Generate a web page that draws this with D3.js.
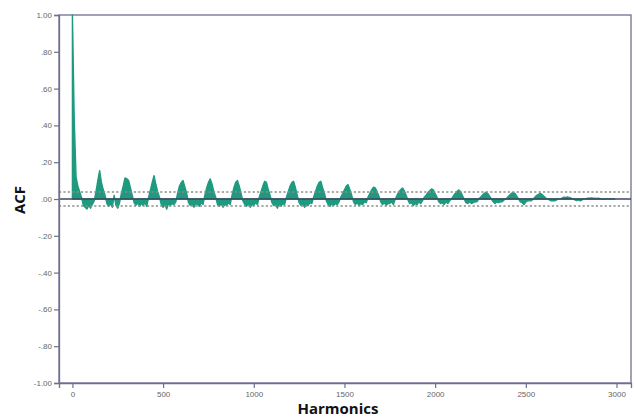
<!DOCTYPE html>
<html><head><meta charset="utf-8">
<script src="https://cdn.jsdelivr.net/npm/d3@7"></script>
<style>
html,body{margin:0;padding:0;background:#fff;}
svg{display:block;}
</style></head>
<body>
<svg id="chart" width="636" height="418"></svg>
<script>
// ACF values at lag steps of 10 (lag 0 .. 2990)
const lagStep = 10;
const acfValues = [
  1.00, 0.43, 0.12, 0.07, 0.04, 0.01, -0.035, -0.045, -0.055, -0.035,
  -0.05, -0.03, -0.01, 0.04, 0.10, 0.154, 0.09, 0.05, 0.02, -0.025,
  -0.04, -0.025, -0.045, 0.02, -0.035, -0.05, -0.02, 0.03, 0.07, 0.115,
  0.11, 0.10, 0.06, 0.02, -0.02, -0.035, -0.02, -0.04, -0.025, -0.035,
  -0.02, -0.04, 0.01, 0.05, 0.09, 0.127, 0.08, 0.04, 0.01, -0.03,
  -0.045, -0.03, -0.055, -0.025, -0.035, -0.025, -0.03, -0.015, 0.03, 0.07,
  0.09, 0.10, 0.065, 0.03, -0.02, -0.035, -0.025, -0.045, -0.025, -0.03,
  -0.04, -0.02, -0.03, 0.02, 0.06, 0.09, 0.109, 0.08, 0.04, 0.01,
  -0.03, -0.04, -0.025, -0.045, -0.03, -0.035, -0.02, -0.03, 0.02, 0.06,
  0.09, 0.10, 0.07, 0.03, -0.01, -0.03, -0.04, -0.025, -0.045, -0.03,
  -0.035, -0.02, -0.03, 0.01, 0.04, 0.07, 0.096, 0.09, 0.05, 0.02,
  -0.02, -0.035, -0.03, -0.05, -0.025, -0.04, -0.025, -0.03, 0.01, 0.04,
  0.07, 0.09, 0.096, 0.06, 0.02, -0.02, -0.035, -0.025, -0.045, -0.03,
  -0.035, -0.02, -0.025, 0.01, 0.04, 0.07, 0.09, 0.096, 0.06, 0.03,
  -0.01, -0.03, -0.04, -0.025, -0.035, -0.025, -0.03, -0.015, 0.01, 0.03,
  0.05, 0.07, 0.078, 0.05, 0.02, -0.015, -0.03, -0.02, -0.035, -0.025,
  -0.03, -0.015, -0.02, 0.01, 0.03, 0.05, 0.064, 0.06, 0.04, 0.015,
  -0.015, -0.03, -0.02, -0.035, -0.025, -0.025, -0.015, -0.03, 0.00, 0.02,
  0.04, 0.05, 0.06, 0.045, 0.02, -0.005, -0.025, -0.02, -0.035, -0.025,
  -0.03, -0.015, -0.025, -0.01, 0.01, 0.02, 0.035, 0.045, 0.055, 0.05,
  0.03, 0.01, -0.015, -0.025, -0.02, -0.03, -0.015, -0.025, -0.01, 0.00,
  0.015, 0.03, 0.04, 0.049, 0.04, 0.02, 0.00, -0.02, -0.025, -0.015,
  -0.025, -0.02, -0.015, -0.015, 0.00, 0.01, 0.02, 0.03, 0.036, 0.03,
  0.015, 0.00, -0.015, -0.025, -0.015, -0.02, -0.015, -0.015, -0.005, 0.00,
  0.01, 0.02, 0.03, 0.035, 0.03, 0.015, 0.00, -0.015, -0.02, -0.03,
  -0.015, -0.01, -0.01, -0.01, 0.00, 0.01, 0.02, 0.025, 0.03, 0.025,
  0.015, 0.005, 0.00, -0.005, -0.01, -0.008, -0.01, -0.005, 0.00, 0.00,
  0.005, 0.01, 0.008, 0.012, 0.008, 0.005, 0.00, -0.005, -0.008, -0.005,
  -0.01, -0.005, 0.00, 0.00, 0.004, 0.005, 0.006, 0.005, 0.004, 0.003,
  0.004, 0.002, 0.00, -0.002, 0.00, 0.001, 0.00, 0.001, 0.00, 0.00
];
const confLimit = 0.038;
const xTicks = [0, 500, 1000, 1500, 2000, 2500, 3000];
const yTicks = [-1, -0.8, -0.6, -0.4, -0.2, 0, 0.2, 0.4, 0.6, 0.8, 1];
const xTitle = "Harmonics";
const yTitle = "ACF";

(function () {
const data = acfValues.map((v, i) => ({lag: i * lagStep, acf: v}));

const svg = d3.select("#chart");
const pL = 59, pR = 631, pT = 15, pB = 383;

const x = d3.scaleLinear().domain([-74, 3080]).range([pL, pR]);
const y = d3.scaleLinear().domain([-1, 1]).range([pB, pT]);

const teal = "#1f9a7f";
const frame = "#6f7090";

// plot frame
svg.append("rect")
  .attr("x", pL).attr("y", pT)
  .attr("width", pR - pL).attr("height", pB - pT)
  .attr("fill", "none").attr("stroke", frame).attr("stroke-width", 1.3);

// ACF area (bars from zero)
const area = d3.area()
  .x(d => x(d.lag))
  .y0(y(0))
  .y1(d => y(d.acf));
svg.append("path").datum(data)
  .attr("d", area)
  .attr("fill", teal).attr("stroke", teal).attr("stroke-width", 1.4)
  .attr("stroke-linejoin", "round");

// confidence limits
[confLimit, -confLimit].forEach(c => {
  svg.append("line")
    .attr("x1", pL).attr("x2", pR)
    .attr("y1", y(c)).attr("y2", y(c))
    .attr("stroke", "#8c8c8c").attr("stroke-width", 1.3)
    .attr("stroke-dasharray", "2.2,2.2");
});

// zero reference line
svg.append("line")
  .attr("x1", pL).attr("x2", pR)
  .attr("y1", y(0)).attr("y2", y(0))
  .attr("stroke", "#3d4562").attr("stroke-width", 1.5);

// axes
const fmtY = d => {
  if (d === 0) return ".00";
  const s = Math.abs(d).toFixed(2).replace(/^0/, "");
  return (d < 0 ? "-" : "") + s;
};
const yAxis = svg.append("g")
  .attr("transform", `translate(${pL},0)`)
  .call(d3.axisLeft(y).tickValues(yTicks).tickFormat(fmtY).tickSize(5).tickPadding(2));
const xAxis = svg.append("g")
  .attr("transform", `translate(0,${pB})`)
  .call(d3.axisBottom(x).tickValues(xTicks).tickFormat(d3.format("d")).tickSize(5).tickPadding(3));

[yAxis, xAxis].forEach(g => {
  g.select(".domain").attr("stroke", frame).attr("stroke-width", 1.3);
  g.selectAll(".tick line").attr("stroke", frame).attr("stroke-width", 1.2);
  g.selectAll(".tick text")
    .attr("fill", "#666")
    .style("font-family", "'Liberation Sans', Arial, sans-serif")
    .style("font-size", "8px");
});

// titles
svg.append("text")
  .attr("x", 338).attr("y", 414)
  .attr("text-anchor", "middle")
  .style("font-family", "'Open Sans', 'Liberation Sans', sans-serif")
  .style("font-weight", "bold").style("font-size", "15px")
  .attr("fill", "#111")
  .text(xTitle);

svg.append("text")
  .attr("transform", "translate(25,200) rotate(-90)")
  .attr("text-anchor", "middle")
  .style("font-family", "'Open Sans', 'Liberation Sans', sans-serif")
  .style("font-weight", "bold").style("font-size", "15px")
  .attr("fill", "#111")
  .text(yTitle);
})();
</script>
</body></html>
